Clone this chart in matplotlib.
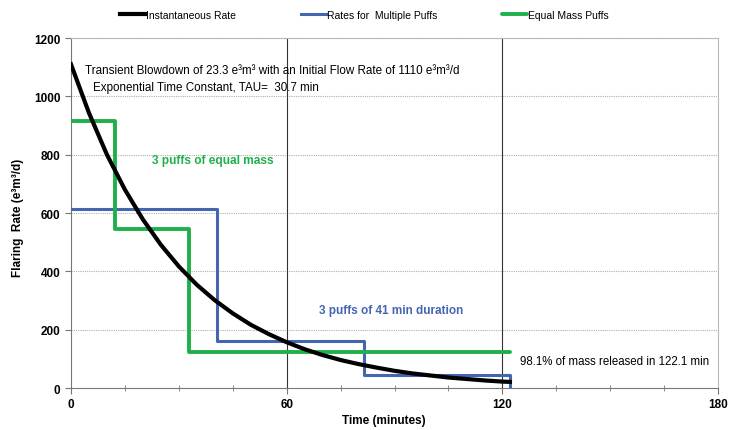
import matplotlib
matplotlib.use('Agg')
import matplotlib.pyplot as plt
import numpy as np

plt.rcParams['font.family'] = ['Liberation Sans', 'DejaVu Sans']

# instantaneous rate (minutes, e3m3/d)
time_inst = [0, 5, 10, 15, 20, 25, 30, 35, 40, 45, 50, 55, 60, 65, 70,
             75, 80, 85, 90, 95, 100, 105, 110, 115, 120, 122.1]
rate_inst = [1110, 943, 800, 680, 578, 491, 417, 354, 301, 256, 217, 185, 157,
             133, 113, 96, 82, 70, 59, 50, 43, 36, 31, 26, 22, 21]

# rates for multiple puffs (41 min each)
time_puffs = [0, 40.7, 81.4, 122.1]
rate_puffs = [615, 162, 43]

# equal mass puffs
time_equal = [0, 12.2, 32.7, 122.1]
rate_equal = [917, 545, 125]

BLACK = '#000000'
BLUE = '#4466b0'
GREEN = '#1fb04b'


def step_xy(edges, rates, drop_end):
    xs, ys = [], []
    for i, r in enumerate(rates):
        xs += [edges[i], edges[i + 1]]
        ys += [r, r]
    if drop_end:
        xs.append(edges[-1])
        ys.append(0)
    return xs, ys


fig = plt.figure(figsize=(7.29, 4.31), dpi=100)
ax = fig.add_axes([0.0974, 0.0974, 0.8876, 0.812])

ax.set_xlim(0, 180)
ax.set_ylim(0, 1200)
ax.set_xticks([0, 60, 120, 180])
ax.set_xticks(np.arange(0, 181, 15), minor=True)
ax.set_yticks(np.arange(0, 1201, 200))

for y in np.arange(200, 1201, 200):
    ax.axhline(y, color='#b0b0b0', lw=0.8, ls=(0, (1, 1)), zorder=1)
for x in [60, 120]:
    ax.axvline(x, color='#333333', lw=0.8, zorder=1)

bx, by = step_xy(time_puffs, rate_puffs, True)
ax.plot(bx, by, color=BLUE, lw=2.2, zorder=3, label='Rates for  Multiple Puffs')
gx, gy = step_xy(time_equal, rate_equal, False)
ax.plot(gx, gy, color=GREEN, lw=2.8, zorder=3, solid_capstyle='round',
        label='Equal Mass Puffs')
ax.plot(time_inst, rate_inst, color=BLACK, lw=3, zorder=4, label='Instantaneous Rate')

for s in ['left', 'bottom']:
    ax.spines[s].set_color('#777777')
for s in ['top', 'right']:
    ax.spines[s].set_color('#b8b8b8')
ax.tick_params(axis='both', which='major', labelsize=8.5, length=4, color='#777777',
               direction='out')
ax.tick_params(axis='x', which='minor', length=4, color='#777777', direction='inout')
for lab in ax.get_xticklabels() + ax.get_yticklabels():
    lab.set_fontweight('bold')

ax.set_xlabel('Time (minutes)', fontsize=8.5, fontweight='bold')
ax.xaxis.set_label_coords(0.484, -0.074)
ax.set_ylabel('Flaring  Rate (e\u00b3m\u00b3/d)', fontsize=8.5, fontweight='bold')
ax.yaxis.set_label_coords(-0.073, 0.489)

ax.text(4, 1090, 'Transient Blowdown of 23.3 e\u00b3m\u00b3 with an Initial Flow Rate of 1110 e\u00b3m\u00b3/d',
        fontsize=8.4, va='center')
ax.text(6, 1033, 'Exponential Time Constant, TAU=  30.7 min', fontsize=8.4, va='center')
ax.text(22.5, 782, '3 puffs of equal mass', fontsize=8.6, fontweight='bold',
        color=GREEN, va='center')
ax.text(69, 268, '3 puffs of 41 min duration', fontsize=8.5, fontweight='bold',
        color=BLUE, va='center')
ax.text(125, 92, '98.1% of mass released in 122.1 min', fontsize=8.3, va='center')

handles, labels = ax.get_legend_handles_labels()
order = [2, 0, 1]
fig.legend([handles[i] for i in order], [labels[i] for i in order],
           loc='upper center', bbox_to_anchor=(0.5, 0.997), ncol=3, frameon=False,
           fontsize=7.5, handlelength=2.4, handletextpad=0.1, columnspacing=6.2)

fig.savefig('out.png', dpi=100)
